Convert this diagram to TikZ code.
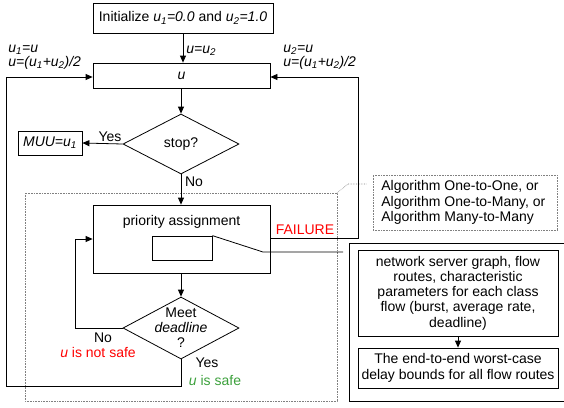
\documentclass[tikz,border=0pt]{standalone}
\usepackage{fontspec}
\setmainfont{Liberation Sans}
\usetikzlibrary{arrows.meta,shapes.geometric}
\definecolor{safegreen}{RGB}{60,160,60}
\newcommand{\usub}[1]{u\textsubscript{#1}}
\tikzset{
  box/.style={draw, rectangle, inner sep=0pt, align=center},
  dia/.style={draw, diamond, inner sep=0pt, shape aspect=1.9},
  txt/.style={inner sep=0pt, align=center},
  dotbox/.style={draw=gray, densely dotted, line width=0.6pt},
  arr/.style={-{Triangle[length=7pt,width=6pt]}},
}
\begin{document}
\begin{tikzpicture}[x=1pt,y=-1pt, line width=0.8pt, font=\fontsize{14}{15.5}\selectfont]
\useasboundingbox (0,0) rectangle (564,407);
% dotted group
\draw[dotbox] (25,193) rectangle (337,401);
\coordinate (d1) at (337,193);
\coordinate (d2) at (348,184);
\coordinate (d3) at (367,184);
\draw[dotbox] (d1) -- (d2) -- (d3);
% nodes
\node[box, minimum width=180, minimum height=30] (init) at (183,18) {Initialize {\itshape\usub{1}=0.0} and {\itshape\usub{2}=1.0}};
\node[box, minimum width=177, minimum height=25] (ubox) at (181.5,75.5) {\itshape u};
\node[dia, minimum width=116, minimum height=60] (stop) at (181,144) {};
\node[txt] (stopt) at (181,144) {stop?};
\node[box, minimum width=64, minimum height=24] (muu) at (50,143) {\itshape MUU=\usub{1}};
\node[box, minimum width=177, minimum height=68] (prio) at (181.5,239) {};
\node[txt] (priot) at (181.5,222) {priority assignment};
\node[box, minimum width=60, minimum height=24] (inner) at (182,248) {};
\node[dia, minimum width=116, minimum height=62] (meet) at (181,328) {};
\node[txt, font=\fontsize{14}{15}\selectfont] (meett) at (181,328) {Meet\\\itshape deadline\\?};
\node[box, dotbox, draw=gray, minimum width=184, minimum height=55] (algo) at (465,202.5) {};
\node[txt, anchor=west, align=left] (algot) at (381,202.5) {Algorithm One-to-One, or\\Algorithm One-to-Many, or\\Algorithm Many-to-Many};
\draw (349,243) -- (566,243) (349,243) -- (349,401) -- (566,401);
\node[box, minimum width=200, minimum height=86, font=\fontsize{14}{15.25}\selectfont] (net) at (458,293) {network server graph, flow\\routes, characteristic\\parameters for each class\\flow (burst, average rate,\\deadline)};
\node[box, minimum width=200, minimum height=40, font=\fontsize{14}{16}\selectfont] (endb) at (458,368) {The end-to-end worst-case\\delay bounds for all flow routes};
% labels
\node[txt, anchor=west] (lu) at (186,51) {\itshape u=\usub{2}};
\node[txt, anchor=north west, align=left, font=\fontsize{14}{14}\selectfont\itshape] (ll) at (8,45) {\usub{1}=u\\u=(\usub{1}+\usub{2})/2};
\node[txt, anchor=north west, align=left, font=\fontsize{14}{14}\selectfont\itshape] (rl) at (283,45) {\usub{2}=u\\u=(\usub{1}+\usub{2})/2};
\node[txt] (yes1) at (110,137) {Yes};
\node[txt] (no1) at (194,182) {No};
\node[txt, text=red] (fail) at (305,230) {FAILURE};
\node[txt] (no2) at (103,338) {No};
\node[txt, text=red] (ns) at (98,352) {{\itshape u} is not safe};
\node[txt] (yes2) at (207,363) {Yes};
\node[txt, text=safegreen] (sf) at (215,380) {{\itshape u} is safe};
% connectors
\draw[arr] (init.south) -- (init.south |- ubox.north);
\draw[arr] (ubox.south -| stop.north) -- (stop.north);
\draw[arr] (stop.west) -- (muu.east);
\draw[arr] (stop.south) -- (stop.south |- prio.north);
\draw[arr] (prio.south -| meet.north) -- (meet.north);
\coordinate (lx) at (75,239);
\draw[arr] (meet.west) -| (lx) -- (lx -| prio.west);
\coordinate (bl) at (6,386);
\coordinate (tl) at (6,77);
\draw[arr] (meet.south) |- (bl) -- (tl) -- (tl -| ubox.west);
\coordinate (rb) at (358,238);
\coordinate (rt) at (358,77);
\draw[arr] (rb -| prio.east) -- (rb) -- (rt) -- (rt -| ubox.east);
\coordinate (k1) at (263,252);
\coordinate (k2) at (343,252);
\draw (inner.north east) -- (k1) -- (k2);
\draw[arr] (net.south) -- (endb.north);
\end{tikzpicture}
\end{document}
